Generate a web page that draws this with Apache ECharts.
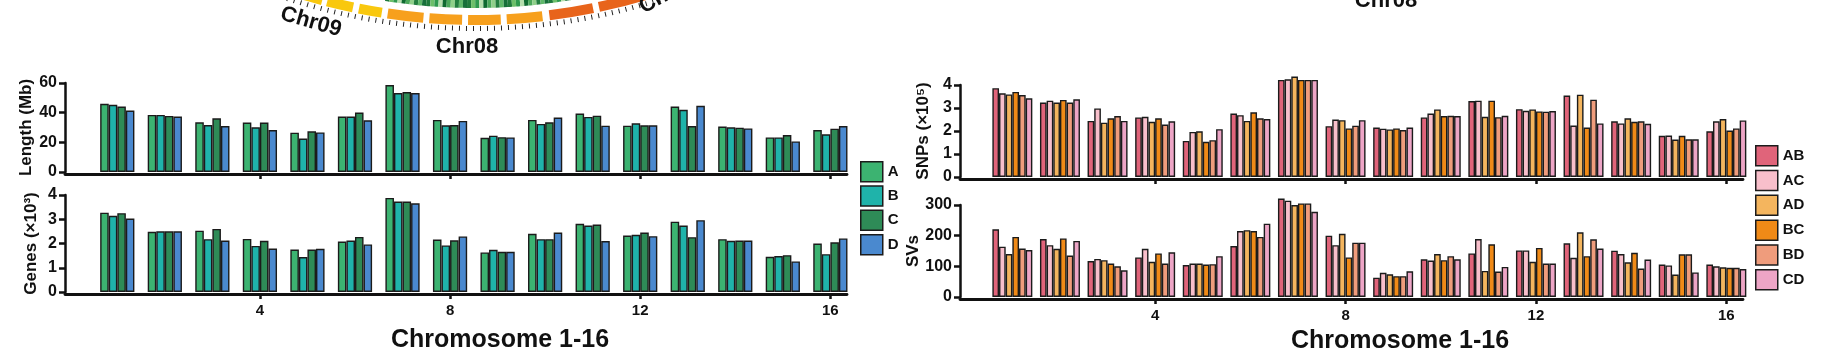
<!DOCTYPE html>
<html>
<head>
<meta charset="utf-8">
<script src="https://cdn.jsdelivr.net/npm/echarts@6/dist/echarts.min.js"></script>
<style>
html,body{margin:0;padding:0;background:#fff;}
#c{width:1822px;height:356px;}
</style>
</head>
<body>
<div id="c"></div>
<script>
// ---------- DATA ----------
const chromosomes = [1,2,3,4,5,6,7,8,9,10,11,12,13,14,15,16];
const xTickLabels = [4, 8, 12, 16];
const genomes = ['A','B','C','D'];
const pairs = ['AB','AC','AD','BC','BD','CD'];

// Length (Mb)
const lengthA = [46.0,38.5,33.5,33.3,26.5,37.4,58.6,35.1,23.1,35.1,39.4,31.2,44.1,30.6,23.3,28.3];
const lengthB = [45.3,38.5,31.7,30.1,22.6,37.4,53.2,31.5,24.5,32.4,37.1,32.8,41.9,30.1,23.3,25.4];
const lengthC = [44.1,37.8,36.2,33.3,27.4,40.1,53.9,31.7,23.5,33.5,38.0,31.5,31.0,29.9,24.9,29.2];
const lengthD = [41.4,37.4,31.0,28.3,26.7,34.9,53.2,34.4,23.3,36.7,31.2,31.5,44.6,29.4,20.6,31.0];

// Genes (x10^3)
const genesA = [3.27,2.48,2.53,2.19,1.75,2.08,3.88,2.16,1.63,2.40,2.81,2.33,2.90,2.18,1.45,2.00];
const genesB = [3.14,2.50,2.18,1.90,1.44,2.12,3.73,1.92,1.74,2.18,2.74,2.36,2.74,2.11,1.48,1.56];
const genesC = [3.25,2.50,2.60,2.11,1.75,2.27,3.73,2.13,1.66,2.18,2.78,2.45,2.26,2.12,1.52,2.05];
const genesD = [3.03,2.50,2.12,1.79,1.78,1.96,3.66,2.29,1.66,2.45,2.10,2.30,2.96,2.12,1.26,2.21];

// SNPs (x10^5)
const snpAB = [3.86,3.24,2.44,2.59,1.57,2.76,4.22,2.21,2.15,2.59,3.30,2.95,3.54,2.42,1.79,1.99];
const snpAC = [3.64,3.32,2.98,2.62,1.96,2.69,4.25,2.50,2.10,2.76,3.32,2.88,2.24,2.33,1.80,2.42];
const snpAD = [3.59,3.24,2.36,2.40,1.99,2.44,4.37,2.47,2.07,2.94,2.62,2.94,3.58,2.55,1.63,2.52];
const snpBC = [3.70,3.35,2.55,2.55,1.53,2.81,4.22,2.11,2.11,2.65,3.32,2.85,2.15,2.40,1.79,2.02];
const snpBD = [3.56,3.24,2.65,2.28,1.60,2.55,4.22,2.23,2.04,2.66,2.60,2.84,3.36,2.42,1.64,2.11];
const snpCD = [3.42,3.38,2.44,2.42,2.08,2.52,4.22,2.47,2.15,2.65,2.66,2.87,2.33,2.31,1.64,2.46];

// SVs
const svAB = [221,189,117,129,104,166,321,200,63,123,142,152,175,151,106,106];
const svAC = [164,169,124,157,109,215,314,169,79,119,189,152,128,140,103,100];
const svAD = [140,157,120,115,109,218,300,206,74,140,85,115,211,113,73,97];
const svBC = [196,191,109,142,106,215,305,129,68,120,172,160,133,144,139,95];
const svBD = [158,135,100,109,107,196,305,177,68,133,83,109,188,93,139,95];
const svCD = [153,183,87,146,133,239,278,177,84,123,98,109,158,122,80,91];

// ---------- STYLE ----------
const FONT = '"Liberation Sans", Arial, Helvetica, sans-serif';
const INK = '#111';
const genomeColors = ['#3CB371','#1FB3AA','#2E8B57','#4A89CF'];
const pairColors = ['#E0647A','#F8BFCB','#F4B55E','#F08A17','#EF9C7C','#EDA5C6'];
const X_MIN = -0.1, X_MAX = 16.35;

function xAx(gi, showLabel) {
  return {
    type: 'value', gridIndex: gi, min: X_MIN, max: X_MAX, offset: 2,
    axisLine: {show: true, onZero: false, lineStyle: {color: INK, width: 2.8}},
    axisTick: {show: true, length: 5, customValues: xTickLabels, lineStyle: {color: INK, width: 2.5}},
    axisLabel: {show: showLabel, customValues: xTickLabels, fontSize: 15, fontWeight: 'bold',
                color: INK, fontFamily: FONT, margin: 9},
    splitLine: {show: false}
  };
}
function yAx(gi, max, interval, name, nameGap) {
  return {
    type: 'value', gridIndex: gi, min: 0, max: max, interval: interval,
    name: name, nameLocation: 'middle', nameGap: nameGap, nameRotate: 90,
    nameTextStyle: {fontSize: 17, fontWeight: 'bold', color: INK, fontFamily: FONT},
    axisLine: {show: true, onZero: false, lineStyle: {color: INK, width: 2.5}},
    axisTick: {show: true, length: 6, lineStyle: {color: INK, width: 2.5}},
    axisLabel: {fontSize: 16, fontWeight: 'bold', color: INK, fontFamily: FONT, margin: 8},
    splitLine: {show: false}
  };
}
function bars(name, vals, color, idx, gap) {
  return {
    type: 'bar', name: name, xAxisIndex: idx, yAxisIndex: idx,
    data: chromosomes.map((c, i) => [c, vals[i]]),
    itemStyle: {color: color, borderColor: '#1b1b1b', borderWidth: 1.4},
    barGap: '0%', barCategoryGap: gap, clip: false, silent: true, animation: false
  };
}

const series = [];
[lengthA, lengthB, lengthC, lengthD].forEach((v, k) => series.push(bars(genomes[k], v, genomeColors[k], 0, '28%')));
[genesA, genesB, genesC, genesD].forEach((v, k) => series.push(bars(genomes[k], v, genomeColors[k], 1, '28%')));
[snpAB, snpAC, snpAD, snpBC, snpBD, snpCD].forEach((v, k) => series.push(bars(pairs[k], v, pairColors[k], 2, '16%')));
[svAB, svAC, svAD, svBC, svBD, svCD].forEach((v, k) => series.push(bars(pairs[k], v, pairColors[k], 3, '16%')));

// ---------- decorative circos fragment (top) ----------
const circ = {cx: 475, cy: -575};
function ang(x, r) { return Math.acos((x - circ.cx) / r); }
const deco = [];
const greens = ['#1f7a3c','#6cbf6a','#2e9a4e','#b5dfad','#0f6b30','#4aa85a','#8fd08a','#237f40','#5fb86a','#17703a'];
for (let k = 0; k < 62; k++) {
  const x1 = 385 + k * 4.1, x2 = x1 + 4.1;
  deco.push({type: 'sector', silent: true,
    shape: {cx: circ.cx, cy: circ.cy, r0: 556, r: 583, startAngle: ang(x2, 583), endAngle: ang(x1, 583)},
    style: {fill: greens[k % greens.length]}});
}
const segs = [
  [300, 321, '#F9C80E'], [326, 352, '#F9C80E'], [358, 381, '#F9C80E'],
  [387, 423, '#F7A01D'], [429, 462, '#F7A01D'], [468, 501, '#F7A01D'], [507, 543, '#F7A01D'],
  [550, 594, '#E8641B'], [600, 650, '#E8641B']
];
segs.forEach(s => deco.push({type: 'sector', silent: true,
  shape: {cx: circ.cx, cy: circ.cy, r0: 590, r: 600, startAngle: ang(s[1], 600), endAngle: ang(s[0], 600)},
  style: {fill: s[2]}}));
deco.push({type: 'arc', silent: true,
  shape: {cx: circ.cx, cy: circ.cy, r: 603.5, startAngle: ang(660, 603.5), endAngle: ang(280, 603.5)},
  style: {stroke: '#222', lineWidth: 5, lineDash: [1, 6], fill: null}});
deco.push({type: 'text', silent: true, x: 311, y: 22, rotation: -0.28,
  style: {text: 'Chr09', font: 'bold 22px ' + FONT, fill: INK, textAlign: 'center', textVerticalAlign: 'middle'}});
deco.push({type: 'text', silent: true, x: 467, y: 47,
  style: {text: 'Chr08', font: 'bold 22px ' + FONT, fill: INK, textAlign: 'center', textVerticalAlign: 'middle'}});
deco.push({type: 'text', silent: true, x: 646, y: 18, rotation: 0.5,
  style: {text: 'Chr07', font: 'bold 22px ' + FONT, fill: INK, textAlign: 'left', textVerticalAlign: 'bottom'}});
deco.push({type: 'text', silent: true, x: 1386, y: 1,
  style: {text: 'Chr08', font: 'bold 22px ' + FONT, fill: INK, textAlign: 'center', textVerticalAlign: 'middle'}});
// axis titles
deco.push({type: 'text', silent: true, x: 500, y: 340,
  style: {text: 'Chromosome 1-16', font: 'bold 25px ' + FONT, fill: INK, textAlign: 'center', textVerticalAlign: 'middle'}});
deco.push({type: 'text', silent: true, x: 1400, y: 341,
  style: {text: 'Chromosome 1-16', font: 'bold 25px ' + FONT, fill: INK, textAlign: 'center', textVerticalAlign: 'middle'}});

const legendCommon = {
  orient: 'vertical', itemWidth: 22, itemHeight: 20, icon: 'rect', selectedMode: false,
  itemStyle: {borderColor: '#1b1b1b', borderWidth: 1.5},
  textStyle: {fontSize: 15, fontWeight: 'bold', color: INK, fontFamily: FONT}, padding: 0
};

const option = {
  animation: false,
  backgroundColor: '#fff',
  textStyle: {fontFamily: FONT},
  grid: [
    {left: 65, top: 83, width: 782, height: 89, outerBoundsMode: 'none'},
    {left: 65, top: 195, width: 782, height: 97, outerBoundsMode: 'none'},
    {left: 960, top: 85, width: 783, height: 92, outerBoundsMode: 'none'},
    {left: 960, top: 205, width: 783, height: 92, outerBoundsMode: 'none'}
  ],
  xAxis: [xAx(0, false), xAx(1, true), xAx(2, false), xAx(3, true)],
  yAxis: [
    yAx(0, 60, 20, 'Length (Mb)', 30),
    yAx(1, 4, 1, 'Genes (×10³)', 25),
    yAx(2, 4, 1, 'SNPs (×10⁵)', 28),
    yAx(3, 300, 100, 'SVs', 36)
  ],
  legend: [
    Object.assign({}, legendCommon, {left: 860, top: 161, itemGap: 2.8, data: genomes}),
    Object.assign({}, legendCommon, {left: 1755, top: 145, itemGap: 3.3, data: pairs})
  ],
  graphic: deco,
  series: series
};

const chart = echarts.init(document.getElementById('c'), null, {renderer: 'canvas'});
chart.setOption(option);
</script>
</body>
</html>
